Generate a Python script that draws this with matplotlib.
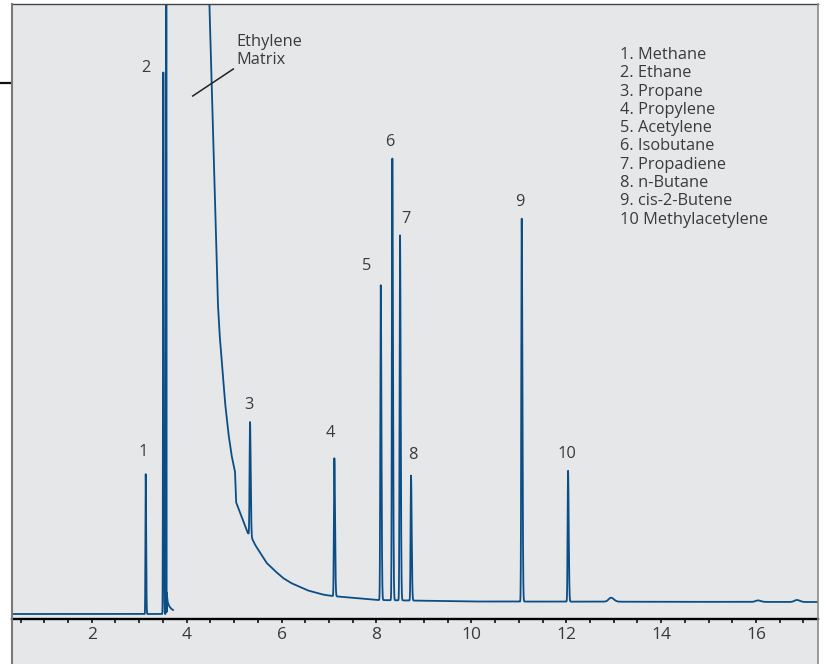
import numpy as np
import matplotlib.pyplot as plt
from matplotlib.lines import Line2D
from matplotlib.patches import Rectangle

plt.rcParams['font.family'] = ['Open Sans', 'DejaVu Sans']

#---------------------------------------------------------------
# GC chromatogram: C1-C4 impurities in ethylene matrix
# y unit ~ detector response (arbitrary)
#---------------------------------------------------------------

# peak no, retention time (min), height above local baseline
peak_no = ['1', '2', '3', '4', '5', '6', '7', '8', '9', '10']
peak_rt = [3.138, 3.509, 5.336, 7.113, 8.091, 8.335, 8.497, 8.729, 11.062, 12.038]
peak_h = [140, 542, 113, 138, 315, 442, 365, 125, 383, 131]

compounds = ['1. Methane', '2. Ethane', '3. Propane', '4. Propylene', '5. Acetylene',
             '6. Isobutane', '7. Propadiene', '8. n-Butane', '9. cis-2-Butene',
             '10 Methylacetylene']

# small bumps on the late baseline
bump_rt = [12.944, 16.04, 16.86]
bump_h = [4.0, 1.5, 2.0]

# ethylene matrix, first trace: front edge goes off scale, then short tail
eth_rt = 3.572
eth_h = 4000
ethA_x = [3.58, 3.60, 3.63, 3.67, 3.713]
ethA_y = [21, 12, 8, 5.5, 4]

# ethylene matrix tail (second trace), the baseline the later peaks sit on
tail_x = [4.46, 4.478, 4.567, 4.655, 4.693, 4.752, 4.809, 4.879, 4.946, 5.020, 5.041,
          5.288, 5.336, 5.372, 5.446, 5.526, 5.688, 5.863, 6.032, 6.200, 6.390, 6.558,
          6.748, 6.896, 7.064, 8.013, 10.0, 17.31]
tail_y = [650, 614, 464, 314, 281, 247, 212, 181, 159, 142, 112,
          81, 79, 76, 69, 63, 51, 43, 36, 31, 27, 23.5,
          21, 19.2, 18, 14, 12.5, 12]

x_start = 0.32
x_end = 17.306


def peak(x, x0, h, sl=0.009, sr=0.014):
    s = np.where(x < x0, sl, sr)
    return h * np.exp(-0.5 * ((x - x0) / s) ** 2)


# trace A: start of run up to the ethylene front
xa = np.linspace(x_start, ethA_x[-1], 4000)
ya = np.zeros_like(xa)
for rt, h in zip(peak_rt[:2], peak_h[:2]):
    ya += peak(xa, rt, h, 0.006, 0.009)
ya += peak(xa, eth_rt, eth_h, 0.004, 0.002)
ya += np.where(xa >= ethA_x[0], np.interp(xa, ethA_x, ethA_y), 0)

# trace B: from the ethylene tail to end of run
xb = np.linspace(tail_x[0], x_end, 12000)
yb = np.interp(xb, tail_x, tail_y)
for rt, h in zip(peak_rt[2:], peak_h[2:]):
    yb += peak(xb, rt, h)
for rt, h in zip(bump_rt, bump_h):
    yb += peak(xb, rt, h, 0.05, 0.06)

bg = '#e6e7e9'
blue = '#0b4e86'
txt = '#3a3a3a'
fs = 11.8

fig = plt.figure(figsize=(8.24, 6.64), dpi=100)
fig.patch.set_facecolor('white')
W, H = 824, 664
ax = fig.add_axes([12 / W, (H - 619) / H, 806 / W, 615 / H])
ax.set_facecolor(bg)

# grey band below the axis and the side lines running to the bottom
fig.patches.append(Rectangle((12 / W, 0), 806 / W, (H - 619) / H, transform=fig.transFigure,
                             facecolor=bg, edgecolor='none', zorder=-5))
fig.lines.append(Line2D([12 / W, 12 / W], [0, 1 - 4 / H], transform=fig.transFigure,
                        color='#7a7a7a', lw=1.5))
fig.lines.append(Line2D([818 / W, 818 / W], [0, 1 - 4 / H], transform=fig.transFigure,
                        color='#8a8a8a', lw=1.2))

ax.plot(xa, ya, color=blue, lw=1.3)
ax.plot(xb, yb, color=blue, lw=1.3)

ax.set_xlim(x_start, x_end)
ax.set_ylim(-5, 610)

# peak numbers
lab_off = [(-2.7, 22), (-17, 4), (-1, 17), (-4, 25), (-14, 19), (-3, 16), (6, 16),
           (2, 21), (-2.4, 17), (-1.3, 17)]
tops = [0, 0] + [float(np.interp(rt, tail_x, tail_y)) for rt in peak_rt[2:]]
for n, rt, h, b, off in zip(peak_no, peak_rt, peak_h, tops, lab_off):
    ax.annotate(n, (rt, b + h), xytext=off, textcoords='offset pixels',
                ha='center', va='center', fontsize=fs, color=txt)

# ethylene matrix label with leader line
ax.text(5.04, 563, 'Ethylene\nMatrix', ha='left', va='center',
        fontsize=fs, color=txt, linespacing=1.2)
ax.plot([4.129, 4.984], [518, 545], color='#222222', lw=1.1)

# compound list
ax.text(13.134, 567, '\n'.join(compounds), ha='left', va='top', fontsize=fs,
        color=txt, linespacing=1.19)

ax.spines['top'].set_color('#444444')
ax.spines['top'].set_linewidth(1.0)
ax.spines['left'].set_visible(False)
ax.spines['right'].set_visible(False)
ax.spines['bottom'].set_color('black')
ax.spines['bottom'].set_linewidth(1.7)

ax.set_xticks(np.arange(2, 17, 2))
ax.set_xticklabels([str(v) for v in range(2, 17, 2)])
ax.set_xticks(np.arange(0.5, 17.3, 0.5), minor=True)
ax.tick_params(axis='x', which='both', direction='out', length=3, width=1.1,
               color='black', pad=3, labelsize=12.5, labelcolor=txt)
ax.set_yticks([531])
ax.set_yticklabels([])
ax.tick_params(axis='y', direction='out', length=8.6, width=1.6, color='#111111')

fig.savefig('out.png', dpi=100, facecolor='white')
